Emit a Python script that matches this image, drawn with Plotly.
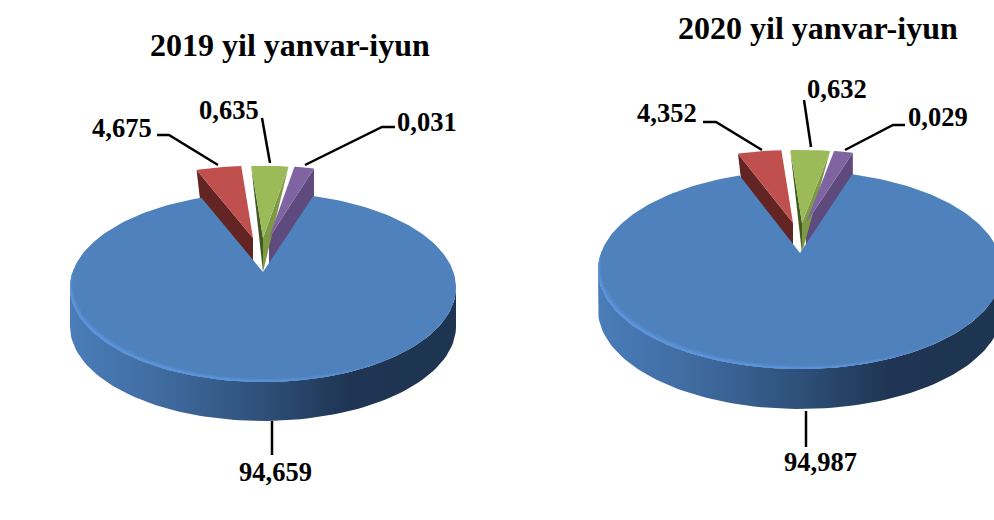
import numpy as np
import plotly.graph_objects as go

# ---- data ----
titles = ["2019 yil yanvar-iyun", "2020 yil yanvar-iyun"]
value_labels_2019 = ["94,659", "4,675", "0,635", "0,031"]
value_labels_2020 = ["94,987", "4,352", "0,632", "0,029"]
# slice sizes as actually drawn in the picture (percent of the full circle)
drawn_share_2019 = [91.53, 3.75, 3.08, 1.64]
drawn_share_2020 = [91.89, 3.47, 3.14, 1.50]

# ---- styling / layout ----
FONT = "Liberation Serif"
BLUE, RED, GREEN, PURPLE = "#4f81bd", "#c0504d", "#9bbb59", "#8064a2"
RED_SIDE, PURPLE_SIDE = "#632523", "#5f4a7e"
GREEN_LEFT, GREEN_RIGHT = "#41591f", "#7f9a45"
WALL = [[0, "#4a7db9"], [0.25, "#3f6a9e"], [0.5, "#2e5079"], [0.72, "#1f3553"], [1, "#1e3552"]]
RIM_SOFT = "#5488c8"
RIM_BRIGHT = "#5a94dc"

charts = [
    dict(share=drawn_share_2019, labels=value_labels_2019, title=titles[0], title_xy=(290, 45),
         cx=263, cy=287.4, a=193, b=94.6, apex_y=272, wall=39, start=-17.0,
         dx=(-10, 0, 6), dy_arc=-27, dy_apex=-34,
         label_xy=[(275, 472), (122, 128), (229, 110), (427, 122)],
         leaders=[[(272, 421), (272, 455)],
                  [(157, 135), (169, 135), (218, 165)],
                  [(262, 118), (270, 163)],
                  [(395, 127), (382, 127), (305, 165)]]),
    dict(share=drawn_share_2020, labels=value_labels_2020, title=titles[1], title_xy=(818, 28),
         cx=800, cy=270, a=202, b=99, apex_y=253, wall=40, start=-15.8,
         dx=(-7, 2, 6), dy_arc=-21, dy_apex=-30,
         label_xy=[(820, 462), (667, 113), (837, 89), (938, 117)],
         leaders=[[(806, 411), (806, 447)],
                  [(703, 122), (716, 122), (762, 150)],
                  [(804, 100), (811, 147)],
                  [(905, 125), (893, 125), (845, 150)]]),
]

fig = go.Figure()


def poly(x, y, color=None, gradient=None):
    kw = dict(fillgradient=dict(type="horizontal", colorscale=gradient)) if gradient else dict(fillcolor=color)
    fig.add_trace(go.Scatter(x=list(x), y=list(y), mode="lines", fill="toself",
                             line=dict(width=0), hoverinfo="skip", showlegend=False, **kw))


def ell(c, theta, shrink=0.0):
    t = np.radians(theta)
    return (c["cx"] + c["a"] * (1 - shrink) * np.sin(t), c["cy"] - c["b"] * (1 - shrink) * np.cos(t))


for c in charts:
    sh = np.array(c["share"][1:], float)
    edges = c["start"] + np.concatenate([[0], np.cumsum(sh) * 3.6])
    depth = -c["dy_apex"]

    def arc(i, th):
        x, y = ell(c, th)
        return x + c["dx"][i], y + c["dy_arc"]

    def apex(i):
        return c["cx"] + c["dx"][i], c["apex_y"] + c["dy_apex"]

    # ---- side faces of the pulled-out slices (blue covers what is behind it)
    ax, ay = apex(0)
    lx, ly = arc(0, edges[0])
    poly([lx, ax, ax, lx + 4], [ly, ay, ay + depth, ly + 34], RED_SIDE)
    ax, ay = apex(2)
    rx, ry = arc(2, edges[3])
    poly([rx, ax, ax, rx], [ry, ay, ay + depth, ry + 34], PURPLE_SIDE)
    ax, ay = apex(1)
    lx, ly = arc(1, edges[1])
    rx, ry = arc(1, edges[2])
    poly([lx, ax, ax], [ly, ay, ay + depth], GREEN_LEFT)
    poly([rx, ax, ax], [ry, ay, ay + depth], GREEN_RIGHT)

    # ---- blue body: wall, top face, tapered rim highlight
    th = np.linspace(90, 270, 90)
    x, y = ell(c, th)
    poly(np.r_[x, x[::-1]], np.r_[y, (y + c["wall"])[::-1]], gradient=WALL)

    th_blue = np.linspace(edges[3] + 1.6, c["start"] + 360 - 1.6, 240)
    x, y = ell(c, th_blue)
    poly(np.r_[c["cx"], x], np.r_[c["apex_y"], y], BLUE)

    for t0, t1, s, col in ((135, 282, 0.038, RIM_SOFT), (150, 278, 0.02, RIM_BRIGHT)):
        th = np.linspace(t0, t1, 90)
        taper = np.sin(np.pi * (th - t0) / (t1 - t0)) ** 0.7
        xo, yo = ell(c, th)
        xi, yi = ell(c, th, s * taper)
        poly(np.r_[xo, xi[::-1]], np.r_[yo, yi[::-1]], col)

    # ---- top faces of the pulled-out slices
    for i, col in enumerate((RED, GREEN, PURPLE)):
        ths = np.linspace(edges[i], edges[i + 1], 16)
        x, y = arc(i, ths)
        ax, ay = apex(i)
        poly(np.r_[ax, x], np.r_[ay, y], col)

    # ---- leader lines
    for pts in c["leaders"]:
        fig.add_trace(go.Scatter(x=[p[0] for p in pts], y=[p[1] for p in pts], mode="lines",
                                 line=dict(color="black", width=2.5), hoverinfo="skip", showlegend=False))

    # ---- texts
    for txt, (tx, ty) in zip(c["labels"], c["label_xy"]):
        fig.add_annotation(x=tx, y=ty, text=txt, showarrow=False,
                           font=dict(family=FONT, size=26.5, color="black", weight=700))
    fig.add_annotation(x=c["title_xy"][0], y=c["title_xy"][1], text=c["title"], showarrow=False,
                       font=dict(family=FONT, size=32, color="black", weight=700))

fig.update_layout(
    width=994, height=520, margin=dict(l=0, r=0, t=0, b=0),
    paper_bgcolor="white", plot_bgcolor="white", showlegend=False,
    xaxis=dict(range=[0, 994], visible=False, fixedrange=True),
    yaxis=dict(range=[520, 0], visible=False, fixedrange=True),
)
fig.write_html("out.html", config={"displayModeBar": False},
               post_script="document.body.style.margin='0';document.body.style.overflow='hidden';")
